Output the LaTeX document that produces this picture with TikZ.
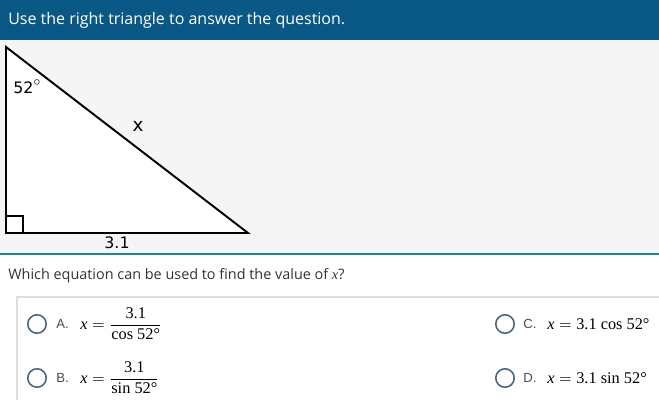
\documentclass[tikz,border=0pt]{standalone}
\usepackage{amsmath}
\usepackage{fontspec}
\setmainfont{Liberation Serif}
\newfontfamily\opensans{Open Sans}
\newfontfamily\dejavu{DejaVu Sans}
\newfontfamily\arial{Liberation Sans}
\usepackage{xcolor}
\usetikzlibrary{calc, positioning}

\definecolor{headblue}{RGB}{10,88,133}
\definecolor{panelgray}{RGB}{245,245,245}
\definecolor{rulecol}{RGB}{38,128,160}
\definecolor{ringcol}{RGB}{72,100,128}
\definecolor{boxline}{RGB}{222,222,222}
\definecolor{textgray}{RGB}{51,51,51}

\begin{document}
\begin{tikzpicture}[x=0.02cm, y=-0.02cm]
		\tikzstyle{heading} = [anchor=west, inner sep=0, text=white, font=\opensans\fontsize{9.1}{11}\selectfont]
		\tikzstyle{query} = [anchor=west, inner sep=0, text=textgray, font=\opensans\fontsize{8.2}{10}\selectfont]
		\tikzstyle{side} = [inner sep=0, font=\dejavu\fontsize{9}{11}\selectfont]
		\tikzstyle{ring} = [draw=ringcol, circle, line width=0.9pt, minimum size=10.5pt, inner sep=0]
		\tikzstyle{letter} = [anchor=west, inner sep=0, text=black!70, font=\arial\fontsize{7.5}{9}\selectfont]
		\tikzstyle{eqn} = [anchor=west, inner sep=0, font=\fontsize{9.3}{11}\selectfont]
		
		\useasboundingbox (0, 0) rectangle (659, 400);
		
		% header and panel
		\fill[headblue] (0, 0) rectangle (659, 40);
		\fill[panelgray] (0, 40) rectangle (659, 253);
		\draw[rulecol, line width=1.2pt] (0, 254) -- (659, 254);
		\node[heading] 	at (8, 20)		(head) 	{Use the right triangle to answer the question.};
		
		% triangle
		\coordinate (top) at (6, 47);
		\coordinate (bl) at (6, 233);
		\coordinate (br) at (248, 233);
		\filldraw[fill=white, line width=1.1pt, line join=miter] (top) -- (bl) -- (br) -- cycle;
		\draw[line width=0.9pt] ($(bl) + (0, -17)$) -- ++(17, 0) -- ++(0, 17);
		\node[side] 	at (27, 87)		(ang) 	{52\raisebox{0.9ex}{\scriptsize$\circ$}};
		\node[side] 	at (138, 126)	(hyp) 	{\fontsize{10.5}{12}\selectfont x};
		\node[side] 	at (117, 243)	(base) 	{3.1};
		
		% question
		\node[query] 	at (8, 276)		(ask) 	{Which equation can be used to find the value of {\fontspec{Liberation Serif}\itshape x}?};
		\draw[boxline, line width=0.8pt] (659, 297) -- (17, 297) -- (17, 400);
		
		% choices
		\node[ring] 	at (37, 324)	(ra) 	{};
		\node[letter] 	at (56, 324)	(la) 	{A.};
		\node[eqn] 		at (80, 324)	(ea) 	{$\textit{x} = \dfrac{\text{3.1}}{\text{cos 52°}}$};
		\node[ring] 	at (37, 378)	(rb) 	{};
		\node[letter] 	at (56, 378)	(lb) 	{B.};
		\node[eqn] 		at (80, 378)	(eb) 	{$\textit{x} = \dfrac{\text{3.1}}{\text{sin 52°}}$};
		\node[ring] 	at (505, 324)	(rc) 	{};
		\node[letter] 	at (523, 324)	(lc) 	{C.};
		\node[eqn] 		at (547, 324)	(ec) 	{$\textit{x} = \text{3.1 cos 52°}$};
		\node[ring] 	at (505, 378)	(rd) 	{};
		\node[letter] 	at (523, 378)	(ld) 	{D.};
		\node[eqn] 		at (547, 378)	(ed) 	{$\textit{x} = \text{3.1 sin 52°}$};
	\end{tikzpicture}
\end{document}
